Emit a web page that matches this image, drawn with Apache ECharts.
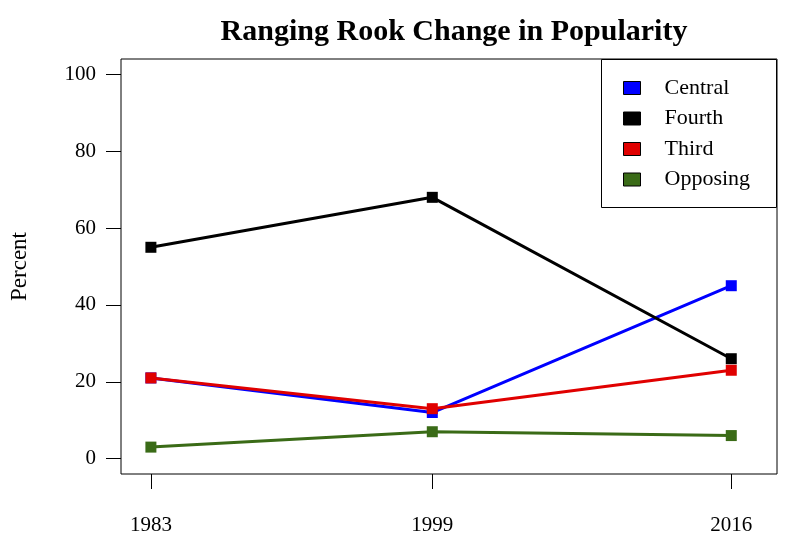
<!DOCTYPE html>
<html><head><meta charset="utf-8">
<script src="https://cdn.jsdelivr.net/npm/echarts@6/dist/echarts.min.js"></script>
<style>html,body{margin:0;padding:0;background:#fff}#c{width:800px;height:543px}</style>
</head><body><div id="c"></div>
<script>
var years = [1983, 1999, 2016];
var yTicks = [0, 20, 40, 60, 80, 100];
var seriesNames = ['Central', 'Fourth', 'Third', 'Opposing'];
var central = [21, 12, 45];
var fourth = [55, 68, 26];
var third = [21, 13, 23];
var opposing = [3, 7, 6];
var colors = ['#0000ff', '#000000', '#e00000', '#3a6b17'];
var values = [central, fourth, third, opposing];

var FONT = "'Liberation Serif', 'DejaVu Serif', serif";
var chart = echarts.init(document.getElementById('c'), null, {renderer: 'canvas'});
var series = seriesNames.map(function (n, i) {
  return {
    name: n, type: 'line',
    data: years.map(function (y, j) { return [y, values[i][j]]; }),
    symbol: 'rect', symbolSize: 11,
    lineStyle: {color: colors[i], width: 3},
    itemStyle: {color: colors[i]},
    emphasis: {disabled: true},
    animation: false, z: 2 + i
  };
});
chart.setOption({
  animation: false,
  title: {text: 'Ranging Rook Change in Popularity', left: 449, top: 12, textAlign: 'center',
    textStyle: {fontFamily: FONT, fontWeight: 'bold', fontSize: 30, color: '#000'}},
  grid: {left: 121, right: 23, top: 59, bottom: 69, show: true, borderColor: '#000', borderWidth: 1, backgroundColor: 'transparent'},
  xAxis: {type: 'value', min: 1981.3, max: 2018.6,
    axisLine: {show: false, onZero: false}, splitLine: {show: false},
    axisTick: {show: true, length: 15, lineStyle: {color: '#000', width: 1}, customValues: years},
    axisLabel: {customValues: years, margin: 41, fontFamily: FONT, fontSize: 21, color: '#000',
      formatter: function (v) { return String(v); }}},
  yAxis: {type: 'value', min: -4, max: 104, name: 'Percent', nameLocation: 'middle', nameGap: 90,
    nameTextStyle: {fontFamily: FONT, fontSize: 23, color: '#000'},
    axisLine: {show: false, onZero: false}, splitLine: {show: false},
    axisTick: {show: true, length: 15, lineStyle: {color: '#000', width: 1}, customValues: yTicks},
    axisLabel: {customValues: yTicks, margin: 25, fontFamily: FONT, fontSize: 21, color: '#000'}},
  legend: {orient: 'vertical', left: 618, top: 72, itemWidth: 17, itemHeight: 13, itemGap: 8.5,
    icon: 'rect', data: seriesNames, z: 200, zlevel: 0,
    itemStyle: {borderColor: '#000', borderWidth: 1},
    textStyle: {fontFamily: FONT, fontSize: 22, color: '#000', lineHeight: 22, padding: [0, 0, 0, 19]}},
  graphic: [{type: 'rect', shape: {x: 601.5, y: 59.5, width: 175, height: 148}, style: {fill: '#fff', stroke: '#000', lineWidth: 1}, z: 50, zlevel: 0}],
  series: series
});
</script></body></html>
